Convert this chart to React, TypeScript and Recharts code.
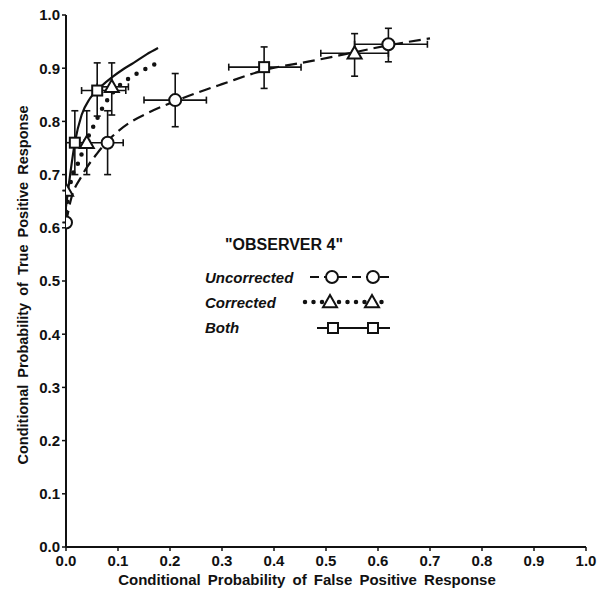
import React from "react";
import {
  ComposedChart,
  Line,
  Scatter,
  XAxis,
  YAxis,
  ErrorBar,
  Legend,
} from "recharts";

// ---- data ----
const tickValues = [0, 0.1, 0.2, 0.3, 0.4, 0.5, 0.6, 0.7, 0.8, 0.9, 1.0];

// observed points with error-bar ranges
const uncorrectedPoints = [
  { x: 0.0, y: 0.61, xLo: 0.0, xHi: 0.0, yLo: 0.61, yHi: 0.61 },
  { x: 0.08, y: 0.76, xLo: 0.045, xHi: 0.11, yLo: 0.7, yHi: 0.82 },
  { x: 0.21, y: 0.84, xLo: 0.15, xHi: 0.27, yLo: 0.79, yHi: 0.89 },
  { x: 0.62, y: 0.945, xLo: 0.555, xHi: 0.695, yLo: 0.912, yHi: 0.975 },
];
const correctedPoints = [
  { x: 0.0, y: 0.67, xLo: 0.0, xHi: 0.0, yLo: 0.67, yHi: 0.67 },
  { x: 0.04, y: 0.76, xLo: 0.04, xHi: 0.04, yLo: 0.7, yHi: 0.82 },
  { x: 0.088, y: 0.865, xLo: 0.06, xHi: 0.12, yLo: 0.812, yHi: 0.91 },
  { x: 0.555, y: 0.928, xLo: 0.49, xHi: 0.62, yLo: 0.885, yHi: 0.965 },
];
const bothPoints = [
  { x: 0.017, y: 0.76, xLo: 0.0, xHi: 0.035, yLo: 0.7, yHi: 0.82 },
  { x: 0.06, y: 0.858, xLo: 0.03, xHi: 0.115, yLo: 0.81, yHi: 0.91 },
  { x: 0.381, y: 0.902, xLo: 0.313, xHi: 0.452, yLo: 0.862, yHi: 0.94 },
];

// fitted curves
const uncorrectedCurve = [
  { x: 0.0, y: 0.61 },
  { x: 0.01, y: 0.655 },
  { x: 0.03, y: 0.697 },
  { x: 0.06, y: 0.74 },
  { x: 0.085, y: 0.768 },
  { x: 0.12, y: 0.796 },
  { x: 0.16, y: 0.817 },
  { x: 0.21, y: 0.838 },
  { x: 0.27, y: 0.86 },
  { x: 0.3, y: 0.87 },
  { x: 0.38, y: 0.896 },
  { x: 0.48, y: 0.915 },
  { x: 0.55, y: 0.929 },
  { x: 0.62, y: 0.943 },
  { x: 0.7, y: 0.956 },
];
const correctedCurve = [
  { x: 0.0, y: 0.63 },
  { x: 0.01, y: 0.69 },
  { x: 0.025, y: 0.725 },
  { x: 0.04, y: 0.765 },
  { x: 0.055, y: 0.795 },
  { x: 0.07, y: 0.825 },
  { x: 0.085, y: 0.848 },
  { x: 0.1, y: 0.865 },
  { x: 0.12, y: 0.88 },
  { x: 0.14, y: 0.892 },
  { x: 0.16, y: 0.902 },
  { x: 0.18, y: 0.912 },
];
const bothCurve = [
  { x: 0.0, y: 0.64 },
  { x: 0.008, y: 0.7 },
  { x: 0.017, y: 0.76 },
  { x: 0.03, y: 0.812 },
  { x: 0.046, y: 0.843 },
  { x: 0.07, y: 0.868 },
  { x: 0.09, y: 0.884 },
  { x: 0.11, y: 0.898 },
  { x: 0.13, y: 0.91 },
  { x: 0.155, y: 0.926 },
  { x: 0.177, y: 0.938 },
];

const legendTitle = '"OBSERVER 4"';
const legendLabels = ["Uncorrected", "Corrected", "Both"];
const xAxisTitle = "Conditional Probability of False Positive Response";
const yAxisTitle = "Conditional Probability of True Positive Response";

// ---- helpers ----
const INK = "#111";
const FONT = "'Liberation Sans', Arial, Helvetica, sans-serif";

const withErrors = (pts: any[]) =>
  pts.map((p) => ({
    x: p.x,
    y: p.y,
    ex: [p.x - p.xLo, p.xHi - p.x],
    ey: [p.y - p.yLo, p.yHi - p.y],
  }));

const CircleShape = (props: any) => (
  <circle cx={props.cx} cy={props.cy} r={6} fill="#fff" stroke={INK} strokeWidth={2} />
);
const TriangleShape = (props: any) => {
  const { cx, cy } = props;
  const s = 7;
  return (
    <polygon
      points={`${cx},${cy - s} ${cx - s},${cy + s * 0.75} ${cx + s},${cy + s * 0.75}`}
      fill="#fff"
      stroke={INK}
      strokeWidth={2}
      strokeLinejoin="miter"
    />
  );
};
const SquareShape = (props: any) => (
  <rect x={props.cx - 5} y={props.cy - 5} width={10} height={10} fill="#fff" stroke={INK} strokeWidth={2} />
);

const renderLegend = () => (
  <svg width={215} height={120} style={{ display: "block", overflow: "visible" }}>
    <text x={30} y={25} fontFamily={FONT} fontSize={16} fontWeight="bold" fill={INK}>
      {legendTitle}
    </text>
    {legendLabels.map((lab, i) => (
      <text
        key={lab}
        x={10}
        y={58 + i * 25}
        fontFamily={FONT}
        fontSize={15}
        fontWeight="bold"
        fontStyle="italic"
        fill={INK}
      >
        {lab}
      </text>
    ))}
    {/* Uncorrected */}
    <line x1={115} y1={52} x2={195} y2={52} stroke={INK} strokeWidth={2} strokeDasharray="9 5" />
    <circle cx={137} cy={52} r={6} fill="#fff" stroke={INK} strokeWidth={2} />
    <circle cx={178} cy={52} r={6} fill="#fff" stroke={INK} strokeWidth={2} />
    {/* Corrected */}
    <line
      x1={110}
      y1={77}
      x2={195}
      y2={77}
      stroke={INK}
      strokeWidth={4.5}
      strokeLinecap="round"
      strokeDasharray="0 8.5"
    />
    <TriangleShape cx={135} cy={77} />
    <TriangleShape cx={177} cy={77} />
    {/* Both */}
    <line x1={122} y1={103} x2={195} y2={103} stroke={INK} strokeWidth={2} />
    <SquareShape cx={138} cy={103} />
    <SquareShape cx={178} cy={103} />
  </svg>
);

const XLabel = () => (
  <text x={307} y={585} textAnchor="middle" fontFamily={FONT} fontSize={15} fontWeight="bold" fill={INK} wordSpacing={3}>
    {xAxisTitle}
  </text>
);
const YLabel = () => (
  <text
    x={0}
    y={0}
    transform="translate(28,285) rotate(-90)"
    textAnchor="middle"
    fontFamily={FONT}
    fontSize={14.5}
    fontWeight="bold"
    fill={INK}
    wordSpacing={3}
  >
    {yAxisTitle}
  </text>
);

const tickStyle = { fontFamily: FONT, fontSize: 15, fontWeight: "bold", fill: INK };

export default function App() {
  return (
    <div style={{ position: "absolute", left: 0, top: 0, background: "#fff" }}>
      <ComposedChart
        width={603}
        height={595}
        margin={{ top: 15, right: 17, bottom: 0, left: 0 }}
      >
        <XAxis
          type="number"
          dataKey="x"
          domain={[0, 1]}
          ticks={tickValues}
          interval={0}
          allowDataOverflow
          tickFormatter={(v: number) => v.toFixed(1)}
          axisLine={{ stroke: INK, strokeWidth: 2 }}
          tickLine={{ stroke: INK, strokeWidth: 1.5 }}
          tickSize={4}
          tickMargin={4}
          tick={tickStyle}
          height={48}
          label={XLabel}
        />
        <YAxis
          type="number"
          dataKey="y"
          domain={[0, 1]}
          ticks={tickValues}
          interval={0}
          allowDataOverflow
          tickFormatter={(v: number) => v.toFixed(1)}
          axisLine={{ stroke: INK, strokeWidth: 2 }}
          tickLine={{ stroke: INK, strokeWidth: 1.5 }}
          tickSize={4}
          tickMargin={2}
          tick={tickStyle}
          width={66}
          label={YLabel}
        />
        <Line
          data={uncorrectedCurve}
          dataKey="y"
          type="monotone"
          stroke={INK}
          strokeWidth={2.2}
          strokeDasharray="12 6"
          dot={false}
          activeDot={false}
          isAnimationActive={false}
        />
        <Line
          data={correctedCurve}
          dataKey="y"
          type="monotone"
          stroke={INK}
          strokeWidth={4.5}
          strokeLinecap="round"
          strokeDasharray="0 10"
          dot={false}
          activeDot={false}
          isAnimationActive={false}
        />
        <Line
          data={bothCurve}
          dataKey="y"
          type="monotone"
          stroke={INK}
          strokeWidth={2.2}
          dot={false}
          activeDot={false}
          isAnimationActive={false}
        />
        <Scatter data={withErrors(uncorrectedPoints)} dataKey="y" shape={CircleShape} isAnimationActive={false}>
          <ErrorBar dataKey="ex" direction="x" width={3.5} stroke={INK} strokeWidth={1.6} isAnimationActive={false} />
          <ErrorBar dataKey="ey" direction="y" width={3.5} stroke={INK} strokeWidth={1.6} isAnimationActive={false} />
        </Scatter>
        <Scatter data={withErrors(correctedPoints)} dataKey="y" shape={TriangleShape} isAnimationActive={false}>
          <ErrorBar dataKey="ex" direction="x" width={3.5} stroke={INK} strokeWidth={1.6} isAnimationActive={false} />
          <ErrorBar dataKey="ey" direction="y" width={3.5} stroke={INK} strokeWidth={1.6} isAnimationActive={false} />
        </Scatter>
        <Scatter data={withErrors(bothPoints)} dataKey="y" shape={SquareShape} isAnimationActive={false}>
          <ErrorBar dataKey="ex" direction="x" width={3.5} stroke={INK} strokeWidth={1.6} isAnimationActive={false} />
          <ErrorBar dataKey="ey" direction="y" width={3.5} stroke={INK} strokeWidth={1.6} isAnimationActive={false} />
        </Scatter>
        <Legend
          layout="vertical"
          align="center"
          verticalAlign="middle"
          content={renderLegend}
          wrapperStyle={{ left: 195, top: 225, width: 215, height: 120 }}
        />
      </ComposedChart>
    </div>
  );
}
